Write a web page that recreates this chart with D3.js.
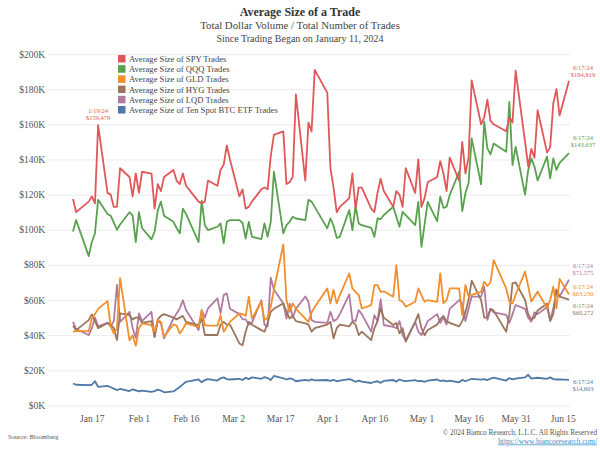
<!DOCTYPE html>
<html>
<head>
<meta charset="utf-8">
<script src="https://d3js.org/d3.v7.min.js"></script>
<style>
  body { margin: 0; background: #fff; }
  svg text { font-family: "Liberation Serif", "DejaVu Serif", serif; }
</style>
</head>
<body>
<svg width="600" height="450"></svg>
<script>
// trading days since the spot BTC ETFs started
var tradeDates = [
  "1/11/24", "1/12/24", "1/16/24", "1/17/24", "1/18/24", "1/19/24", "1/22/24", "1/23/24", "1/24/24", "1/25/24", "1/26/24", "1/29/24", "1/30/24", "1/31/24",
  "2/1/24", "2/2/24", "2/5/24", "2/6/24", "2/7/24", "2/8/24", "2/9/24", "2/12/24", "2/13/24", "2/14/24", "2/15/24", "2/16/24", "2/20/24", "2/21/24", "2/22/24", "2/23/24", "2/26/24", "2/27/24", "2/28/24", "2/29/24",
  "3/1/24", "3/4/24", "3/5/24", "3/6/24", "3/7/24", "3/8/24", "3/11/24", "3/12/24", "3/13/24", "3/14/24", "3/15/24", "3/18/24", "3/19/24", "3/20/24", "3/21/24", "3/22/24", "3/25/24", "3/26/24", "3/27/24", "3/28/24",
  "4/1/24", "4/2/24", "4/3/24", "4/4/24", "4/5/24", "4/8/24", "4/9/24", "4/10/24", "4/11/24", "4/12/24", "4/15/24", "4/16/24", "4/17/24", "4/18/24", "4/19/24", "4/22/24", "4/23/24", "4/24/24", "4/25/24", "4/26/24", "4/29/24", "4/30/24",
  "5/1/24", "5/2/24", "5/3/24", "5/6/24", "5/7/24", "5/8/24", "5/9/24", "5/10/24", "5/13/24", "5/14/24", "5/15/24", "5/16/24", "5/17/24", "5/20/24", "5/21/24", "5/22/24", "5/23/24", "5/24/24", "5/28/24", "5/29/24", "5/30/24", "5/31/24",
  "6/3/24", "6/4/24", "6/5/24", "6/6/24", "6/7/24", "6/10/24", "6/11/24", "6/12/24", "6/13/24", "6/14/24", "6/17/24"
];

// average trade size, thousands of dollars
var spy = [
  117.5, 110, 116, 119, 115, 159.479, 121, 120, 113, 113, 135, 130, 119, 132,
  121, 133, 132, 112, 126, 122, 130, 134, 128, 126, 132, 125, 116, 115, 116, 128, 125, 134, 137, 148,
  140, 119, 123, 112, 113, 116, 123, 124, 123, 142, 154, 156, 126, 127, 130, 177, 128, 161, 156, 191,
  178, 135, 124, 110, 113, 118, 132, 112, 124, 124, 112, 110, 121, 129, 122, 113, 122, 120, 113, 135, 121, 140,
  113, 118, 127, 130, 139, 132, 122, 141, 128, 150, 132, 141, 185, 160, 164, 174, 162, 160, 156, 164, 161, 190.5,
  150, 136, 146, 141, 168, 144, 147, 172, 180, 165, 184.819
];
var qqq = [
  99, 105.5, 85, 93, 98, 117, 109, 108, 104, 100, 103, 110, 108, 93,
  110, 101, 94.5, 99, 111, 116, 108, 104.5, 101, 98, 112, 109, 93, 116.5, 102.6, 99.8, 101.7, 103.6, 92.2, 104.5,
  105.5, 105.5, 104, 95, 104.5, 96, 94.7, 103.6, 96, 104.5, 133, 97.9, 102.6, 104.5, 107.4, 106.4, 105.5, 117, 116, 113,
  100.8, 106.4, 102.3, 95.4, 96, 111.2, 99.8, 113.5, 103.6, 102.6, 101.1, 96, 106.4, 106.1, 108.3, 113.1, 107.4, 101.7, 110.2, 108.3, 102.6, 115.9,
  90.3, 103, 115.9, 104.9, 118.8, 112.5, 113.1, 119.7, 133, 110.6, 120.7, 126.4, 152, 125.8, 161.5, 146.3, 142.9, 149.1, 144.4, 172.8, 136.8, 147.2,
  120, 134, 140.6, 136, 128, 141.6, 129.3, 140.6, 134, 138, 143.637
];
var gld = [
  42, 42.3, 42.3, 49.5, 52, 55, 59.4, 45, 41, 44, 72.5, 37, 40, 34,
  44, 46.7, 45.8, 42, 48.6, 47.6, 39.1, 46.1, 45.4, 41, 43.5, 46.7, 44.8, 54.3, 45.8, 45.4, 45.4, 51.4, 42, 44.8,
  47.6, 52.4, 52, 51, 61.9, 49.5, 59, 48.6, 50, 56.2, 66, 91.6, 59.9, 53.3, 58.1, 55, 49.5, 47.6, 53, 56,
  66.6, 58.1, 65.7, 58.1, 62.8, 75.1, 66.6, 64.7, 63, 55.2, 57.1, 68.5, 68.5, 64.7, 65, 61.9, 79.9, 59.9, 59, 56.2, 59, 66.6,
  62.8, 59, 60, 59, 75.1, 58.1, 59.9, 66.6, 66.6, 51.4, 68.5, 62, 63, 64.7, 70.4, 68, 70, 82.7, 66.6, 59, 58.1, 63,
  76.2, 68, 59.1, 62, 64.8, 55.3, 60, 67.6, 55.3, 72, 63.23
];
var hyg = [
  45.4, 42.9, 48.6, 51.8, 48, 44, 47, 46, 44, 37.2, 52.4, 51.4, 49, 50,
  50, 47, 48, 39, 49, 51, 52, 50, 49, 50, 51, 47.6, 45.8, 49.5, 40.1, 40.1, 40.1, 46, 47.6, 46,
  46, 35.3, 34.3, 42, 47.6, 46, 42.9, 42, 47, 53.3, 55, 58.1, 53.3, 49.5, 51, 48, 46.7, 46, 42, 44,
  46, 47.6, 38.2, 44, 46, 45, 47.6, 46, 40.1, 42, 37.2, 43.9, 48, 55.2, 50, 45.8, 47, 41, 44, 36.3, 47.6, 52,
  44, 40, 43, 46, 49, 51, 48, 47, 45, 48, 53, 60, 71, 60, 50, 50, 55, 54, 42, 52, 69.5, 70,
  60, 52, 49, 50, 54, 58, 48, 52, 66, 62, 60.272
];
var lqd = [
  47.6, 43.5, 40.1, 44, 50, 45, 47, 45, 48, 68.6, 47.6, 53.3, 44, 38.5,
  52.4, 48, 53.3, 39.1, 48, 47, 38.2, 49.5, 52.4, 55.2, 59.9, 54.3, 42.9, 54.3, 50, 55.2, 60.9, 52.4, 62.8, 63.8,
  55, 52, 49, 49, 46, 47, 59.9, 45.8, 45, 72.7, 66, 58, 49.5, 58, 50, 55, 62, 59, 48.6, 47.6,
  47, 53.3, 48, 49, 52, 63.2, 48.6, 48, 54.3, 52, 42, 51.4, 48, 60.5, 45.8, 44.8, 44, 48, 40.1, 37, 47.6, 42,
  40, 44, 48, 52, 47, 50, 46, 55, 60, 58, 48, 55, 62, 62, 67.6, 48.7, 55, 53, 51.5, 47, 52, 57.2,
  55, 50, 47.7, 53, 52, 56, 48.7, 55, 65.7, 62, 71.575
];
var btc = [
  12.5, 11.8, 11.6, 11.8, 13.8, 10.6, 11.2, 10.4, 9.6, 8.8, 9.4, 8.2, 9.2, 8.6,
  8, 8.5, 7.8, 8.2, 9, 8.5, 7.5, 8, 9.2, 10.5, 12, 13.5, 14.8, 13.2, 14.5, 15, 14.2, 15.5, 16, 15,
  14.8, 15.2, 14.5, 15.8, 15, 16, 15.2, 16.2, 15.6, 14.5, 16.8, 15.5, 14.8, 15.4, 15, 13.8, 14.6, 14.2, 14.9, 14.3,
  14.5, 14, 14.6, 13.8, 14.2, 15, 14.4, 13.5, 14.2, 13.6, 12.8, 13.5, 13.8, 12.9, 14, 14.5, 13.6, 14.8, 14.2, 13.9, 14.4, 13.8,
  14, 13.5, 14.2, 14.8, 13.9, 14.3, 13.7, 14.1, 13.2, 14.6, 13.8, 14.5, 15.2, 14.7, 15, 14.5, 15.3, 15.8, 14.2, 15.6, 14.9, 15.3,
  16, 17.5, 15.3, 15.6, 15.8, 15.2, 16, 15, 14.8, 14.9, 14.603
];

var seriesNames = [
  "Average Size of SPY Trades",
  "Average Size of QQQ Trades",
  "Average Size of GLD Trades",
  "Average Size of HYG Trades",
  "Average Size of LQD Trades",
  "Average Size of Ten Spot BTC ETF Trades"
];
var seriesValues = [spy, qqq, gld, hyg, lqd, btc];
var seriesColors = ["#e15759", "#59a14f", "#f28e2b", "#9c755f", "#b07aa1", "#4e79a7"];

var yTicks = [0, 20, 40, 60, 80, 100, 120, 140, 160, 180, 200];
var xTickLabels = ["Jan 17", "Feb 1", "Feb 16", "Mar 2", "Mar 17", "Apr 1", "Apr 16", "May 1", "May 16", "May 31", "Jun 15"];

// vertical nudge of the end labels so they don't collide
var endLabelShift = [-10, -12, -4, 9, -11, 5];

var svg = d3.select("svg"),
  width = +svg.attr("width"),
  height = +svg.attr("height");

var parseDate = d3.timeParse("%m/%d/%y");
var fmtDate = d3.timeFormat("%-m/%-d/%y");
var fmtMoney = function (v) {
  return "$" + d3.format(",")(Math.round(v * 1000));
};
var dates = tradeDates.map(parseDate);

var x = d3
  .scaleTime()
  .domain([dates[0], dates[dates.length - 1]])
  .range([73, 569]);
var y = d3.scaleLinear().domain([0, 200]).range([405.5, 54]);

// titles
svg
  .append("text")
  .attr("x", width / 2)
  .attr("y", 16)
  .attr("text-anchor", "middle")
  .attr("font-size", 12)
  .attr("font-weight", "bold")
  .attr("fill", "#333")
  .text("Average Size of a Trade");
svg
  .append("text")
  .attr("x", width / 2)
  .attr("y", 29)
  .attr("text-anchor", "middle")
  .attr("font-size", 10.8)
  .attr("fill", "#444")
  .text("Total Dollar Volume / Total Number of Trades");
svg
  .append("text")
  .attr("x", width / 2)
  .attr("y", 42)
  .attr("text-anchor", "middle")
  .attr("font-size", 10)
  .attr("fill", "#444")
  .text("Since Trading Began on January 11, 2024");

// gridlines + y labels
var yAxis = d3
  .axisLeft(y)
  .tickValues(yTicks)
  .tickSize(-522)
  .tickFormat(function (d) {
    return "$" + d + "K";
  });
var gy = svg.append("g").attr("transform", "translate(48,0)").call(yAxis);
gy.select(".domain").remove();
gy.selectAll("line").attr("stroke", "#ececec");
gy.selectAll("text")
  .attr("x", -3)
  .attr("font-family", "Liberation Serif, serif")
  .attr("font-size", 9.5)
  .attr("fill", "#555");

// x labels
var xAxis = d3
  .axisBottom(x)
  .tickValues(
    xTickLabels.map(function (s) {
      return d3.timeParse("%b %d %Y")(s + " 2024");
    })
  )
  .tickSize(0)
  .tickFormat(d3.timeFormat("%b %-d"));
var gx = svg.append("g").attr("transform", "translate(0,412)").call(xAxis);
gx.select(".domain").remove();
gx.selectAll("text")
  .attr("font-family", "Liberation Serif, serif")
  .attr("font-size", 9.5)
  .attr("fill", "#555");

// lines, SPY drawn last so it sits on top
var line = d3
  .line()
  .x(function (d, i) {
    return x(dates[i]);
  })
  .y(function (d) {
    return y(d);
  });

var order = [5, 4, 3, 2, 1, 0];
svg
  .append("g")
  .selectAll("path")
  .data(order)
  .enter()
  .append("path")
  .attr("d", function (k) {
    return line(seriesValues[k]);
  })
  .attr("fill", "none")
  .attr("stroke", function (k) {
    return seriesColors[k];
  })
  .attr("stroke-width", 1.8)
  .attr("stroke-linejoin", "round");

// end-of-series labels
var last = dates.length - 1;
var endLabels = svg
  .append("g")
  .selectAll("text")
  .data(seriesValues)
  .enter()
  .append("text")
  .attr("text-anchor", "middle")
  .attr("font-size", 6.5)
  .attr("fill", function (d, i) {
    return seriesColors[i];
  })
  .attr("transform", function (d, i) {
    return "translate(583," + (y(d[last]) + endLabelShift[i]) + ")";
  });
endLabels
  .append("tspan")
  .attr("x", 0)
  .attr("y", -1)
  .text(fmtDate(dates[last]));
endLabels
  .append("tspan")
  .attr("x", 0)
  .attr("y", 6)
  .text(function (d) {
    return fmtMoney(d[last]);
  });

// SPY peak callout
var peakIdx = d3.maxIndex(spy.slice(0, 20));
var peak = svg
  .append("text")
  .attr("text-anchor", "middle")
  .attr("font-size", 6.5)
  .attr("fill", seriesColors[0])
  .attr("transform", "translate(" + x(dates[peakIdx]) + "," + y(spy[peakIdx]) + ")");
peak.append("tspan").attr("x", 0).attr("y", -12).text(fmtDate(dates[peakIdx]));
peak.append("tspan").attr("x", 0).attr("y", -5).text(fmtMoney(spy[peakIdx]));

// legend
var legend = svg
  .append("g")
  .attr("transform", "translate(118,55)")
  .selectAll("g")
  .data(seriesNames)
  .enter()
  .append("g")
  .attr("transform", function (d, i) {
    return "translate(0," + i * 10.2 + ")";
  });
legend
  .append("rect")
  .attr("width", 7.5)
  .attr("height", 7.5)
  .attr("fill", function (d, i) {
    return seriesColors[i];
  });
legend
  .append("text")
  .attr("x", 11)
  .attr("y", 7)
  .attr("font-size", 8.6)
  .attr("fill", "#444")
  .text(function (d) {
    return d;
  });

// footer
svg
  .append("text")
  .attr("x", 8)
  .attr("y", 439)
  .attr("font-size", 6.5)
  .attr("fill", "#555")
  .text("Source: Bloomberg");
svg
  .append("text")
  .attr("x", 597)
  .attr("y", 435)
  .attr("text-anchor", "end")
  .attr("font-size", 7.2)
  .attr("fill", "#555")
  .text("\u00a9 2024 Bianco Research, L.L.C. All Rights Reserved");
svg
  .append("text")
  .attr("x", 597)
  .attr("y", 443.5)
  .attr("text-anchor", "end")
  .attr("font-size", 7.4)
  .attr("fill", "#3b8fc4")
  .attr("text-decoration", "underline")
  .text("https://www.biancoresearch.com/");
</script>
</body>
</html>
